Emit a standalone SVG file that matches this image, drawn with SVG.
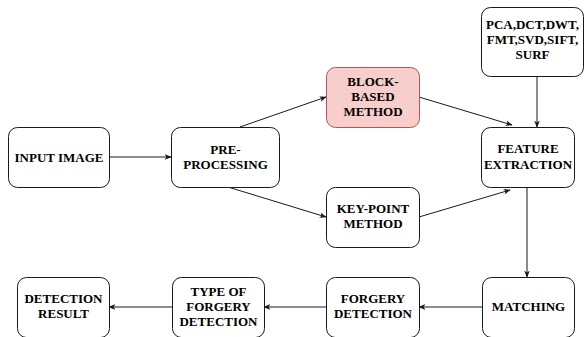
<svg xmlns="http://www.w3.org/2000/svg" width="587" height="337" viewBox="0 0 587 337">
  <style>
    .box { fill: #ffffff; stroke: #1a1a1a; stroke-width: 1; }
    .hl { fill: #f8cecc; stroke: #b85450; stroke-width: 1; }
    .lbl { font-family: 'Liberation Serif', 'Times New Roman', 'DejaVu Serif', serif; font-weight: bold; font-size: 13px; fill: #000; text-anchor: middle; }
    .edge { fill: none; stroke: #1a1a1a; stroke-width: 1; marker-end: url(#arrow); }
  </style>
  <defs>
    <marker id="arrow" viewBox="0 0 10 10" refX="9" refY="5" markerWidth="7" markerHeight="7" orient="auto" markerUnits="userSpaceOnUse">
      <path d="M0,1 L10,5 L0,9 L2.5,5 Z" fill="#1a1a1a"/>
    </marker>
  </defs>
  <rect width="587" height="337" fill="#ffffff"/>

  <g id="connectors">
    <line class="edge" x1="109" y1="157" x2="171" y2="157"/>
    <line class="edge" x1="240" y1="127" x2="326" y2="97"/>
    <line class="edge" x1="228" y1="187" x2="326" y2="217"/>
    <line class="edge" x1="419" y1="97" x2="512" y2="125"/>
    <line class="edge" x1="419" y1="217" x2="510" y2="190"/>
    <line class="edge" x1="537" y1="76" x2="537" y2="127"/>
    <line class="edge" x1="527" y1="187" x2="527" y2="277"/>
    <line class="edge" x1="482" y1="307" x2="419" y2="307"/>
    <line class="edge" x1="326" y1="307" x2="264" y2="307"/>
    <line class="edge" x1="172" y1="307" x2="109" y2="307"/>
  </g>

  <g id="input-image">
    <rect class="box" x="8.5" y="127.5" width="101" height="60" rx="9"/>
    <text class="lbl" x="59" y="162">INPUT IMAGE</text>
  </g>

  <g id="pre-processing">
    <rect class="box" x="171.5" y="127.5" width="108" height="60" rx="9"/>
    <text class="lbl" x="225.5" y="154">PRE-</text>
    <text class="lbl" x="225.5" y="169">PROCESSING</text>
  </g>

  <g id="block-based">
    <rect class="hl" x="326.5" y="67.5" width="93" height="60" rx="9"/>
    <text class="lbl" x="373" y="86">BLOCK-</text>
    <text class="lbl" x="373" y="101">BASED</text>
    <text class="lbl" x="373" y="116">METHOD</text>
  </g>

  <g id="key-point">
    <rect class="box" x="326.5" y="187.5" width="93" height="60" rx="9"/>
    <text class="lbl" x="373" y="213">KEY-POINT</text>
    <text class="lbl" x="373" y="228">METHOD</text>
  </g>

  <g id="techniques">
    <rect class="box" x="481.5" y="7.5" width="102" height="69" rx="9"/>
    <text class="lbl" x="532.5" y="29">PCA,DCT,DWT,</text>
    <text class="lbl" x="532.5" y="44">FMT,SVD,SIFT,</text>
    <text class="lbl" x="532.5" y="59">SURF</text>
  </g>

  <g id="feature-extraction">
    <rect class="box" x="481.5" y="127.5" width="93" height="60" rx="9"/>
    <text class="lbl" x="528" y="153">FEATURE</text>
    <text class="lbl" x="528" y="169">EXTRACTION</text>
  </g>

  <g id="matching">
    <rect class="box" x="482.5" y="277.5" width="92" height="60" rx="9"/>
    <text class="lbl" x="528.5" y="311">MATCHING</text>
  </g>

  <g id="forgery-detection">
    <rect class="box" x="326.5" y="277.5" width="93" height="60" rx="9"/>
    <text class="lbl" x="373" y="303">FORGERY</text>
    <text class="lbl" x="373" y="318">DETECTION</text>
  </g>

  <g id="type-of-forgery">
    <rect class="box" x="172.5" y="277.5" width="92" height="60" rx="9"/>
    <text class="lbl" x="218.5" y="296">TYPE OF</text>
    <text class="lbl" x="218.5" y="311">FORGERY</text>
    <text class="lbl" x="218.5" y="326">DETECTION</text>
  </g>

  <g id="detection-result">
    <rect class="box" x="17.5" y="277.5" width="92" height="60" rx="9"/>
    <text class="lbl" x="63.5" y="303">DETECTION</text>
    <text class="lbl" x="63.5" y="318">RESULT</text>
  </g>
</svg>
